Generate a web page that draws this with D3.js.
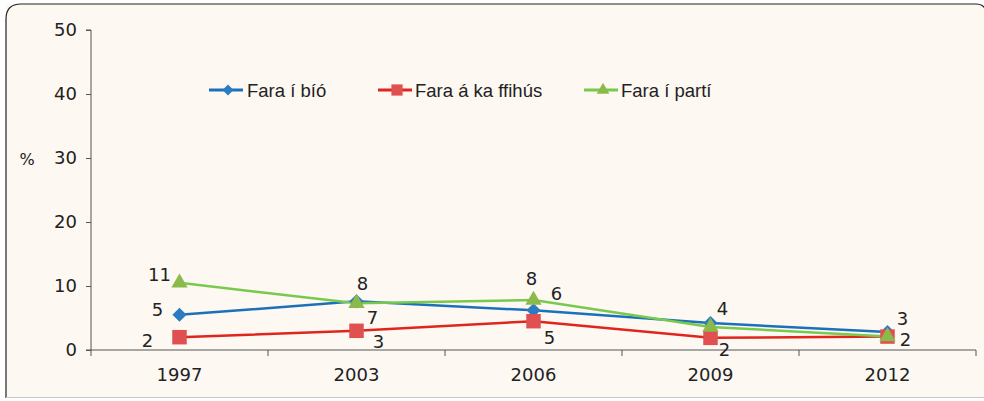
<!DOCTYPE html>
<html><head><meta charset="utf-8">
<script src="https://cdn.jsdelivr.net/npm/d3@7"></script>
<style>html,body{margin:0;padding:0;background:#fff;}svg{display:block;} .num{font-family:"DejaVu Sans", Verdana, sans-serif;} .leg{font-family:"Liberation Sans Narrow", "Arial Narrow", sans-serif;}</style>
</head><body><svg id="c" width="984" height="401"></svg>
<script>
const categories = ["1997","2003","2006","2009","2012"];
const yTicks = [0,10,20,30,40,50];
const seriesNames = ["Fara í bíó","Fara á ka ffihús","Fara í partí"];
const bioValues = [5.5, 7.6, 6.2, 4.2, 2.8];
const kaffiValues = [2.0, 3.0, 4.5, 1.9, 2.1];
const partiValues = [10.5, 7.3, 7.8, 3.6, 2.1];
const bioLabels = ["5","8","6","4","3"];
const kaffiLabels = ["2","3","5","2","2"];
const partiLabels = ["11","7","8",null,null];

const svg = d3.select("#c");
// frame
const fr = d3.path();
fr.moveTo(6, 398); fr.lineTo(6, 19); fr.quadraticCurveTo(6, 4, 21, 4);
fr.lineTo(976, 4); fr.quadraticCurveTo(983, 4, 986, 10);
svg.append("rect").attr("x",6).attr("y",4).attr("width",990).attr("height",394).attr("fill","#fdf8f2");
svg.append("path").attr("d", fr.toString()).attr("fill","none").attr("stroke","#222").attr("stroke-width",1.2);
svg.append("line").attr("x1",6).attr("x2",984).attr("y1",397.5).attr("y2",397.5).attr("stroke","#c8c8c8").attr("stroke-width",1);

const x0 = 91, x1 = 976, yb = 350, yt = 30;
const x = d3.scaleBand().domain(categories).range([x0, x1]);
const y = d3.scaleLinear().domain([0,50]).range([yb, yt]);
const fs = 18;

// y axis
const ya = svg.append("g").attr("transform",`translate(${x0},0)`)
  .call(d3.axisLeft(y).tickValues(yTicks).tickSize(5).tickPadding(9));
ya.attr("font-family", null).attr("font-size", null);
ya.select(".domain").attr("stroke","#555").attr("d",`M-5,${yt}H0V${yb}H-5`);
ya.selectAll(".tick line").attr("stroke","#555");
ya.selectAll("text").attr("class","num").style("font-size",fs+"px").attr("fill","#222");

// x axis
const xa = svg.append("g").attr("transform",`translate(0,${yb})`)
  .call(d3.axisBottom(x).tickSize(0).tickPadding(18));
xa.attr("font-family", null).attr("font-size", null);
xa.select(".domain").attr("stroke","#555").attr("d",`M${x0},0H${x1}`);
xa.selectAll("text").attr("class","num").style("font-size",fs+"px").attr("fill","#222");
const bounds = categories.map(c => x(c)).concat([x1]);
xa.selectAll(".bt").data(bounds).join("line").attr("class","bt")
  .attr("x1",d=>d).attr("x2",d=>d).attr("y1",0).attr("y2",6).attr("stroke","#555");

svg.append("text").attr("class","num").attr("x",27).attr("y",159).attr("text-anchor","middle").attr("dominant-baseline","central")
  .style("font-size","16px").attr("fill","#222").text("%");

const cx = c => x(c) + x.bandwidth()/2;
const diamond = {draw(ctx, size){ const s = Math.sqrt(size)/Math.SQRT2; ctx.moveTo(0,-s); ctx.lineTo(s,0); ctx.lineTo(0,s); ctx.lineTo(-s,0); ctx.closePath(); }};
const series = [
  {name: seriesNames[0], values: bioValues, labels: bioLabels, line:"#1b70ba", mark:"#2b7dc2", sym:diamond, size:100,
   off:[[-22,-5],[6,-18],[23,-17],[12,-15],[15,-14]]},
  {name: seriesNames[1], values: kaffiValues, labels: kaffiLabels, line:"#e0251e", mark:"#e05050", sym:d3.symbolSquare, size:210,
   off:[[-32,3],[22,11],[16,16],[14,12],[18,3]]},
  {name: seriesNames[2], values: partiValues, labels: partiLabels, line:"#78c94d", mark:"#8cba4a", sym:d3.symbolTriangle, size:115,
   off:[[-20,-8],[16,14],[-2,-22],[0,0],[0,0]]}
];
const line = d3.line().x((d,i)=>cx(categories[i])).y(d=>y(d));
series.forEach(s => {
  svg.append("path").attr("d", line(s.values)).attr("fill","none").attr("stroke",s.line).attr("stroke-width",2.5);
});
series.forEach(s => {
  svg.selectAll(null).data(s.values).join("path")
    .attr("transform",(d,i)=>`translate(${cx(categories[i])},${y(d)})`)
    .attr("d", d3.symbol().type(s.sym).size(s.size)).attr("fill",s.mark);
});
series.forEach(s => {
  s.values.forEach((v,i) => {
    if (s.labels[i] == null) return;
    svg.append("text").attr("class","num").attr("x", cx(categories[i]) + s.off[i][0]).attr("y", y(v) + s.off[i][1])
      .attr("text-anchor","middle").attr("dominant-baseline","central")
      .style("font-size",fs+"px").attr("fill","#222").text(s.labels[i]);
  });
});

// legend
const lg = [{x:209, tx:247},{x:378, tx:415},{x:584, tx:621}];
series.forEach((s,k) => {
  const g = svg.append("g");
  g.append("line").attr("x1",lg[k].x).attr("x2",lg[k].x+34).attr("y1",90).attr("y2",90).attr("stroke",s.line).attr("stroke-width",3);
  g.append("path").attr("transform",`translate(${lg[k].x+19},90)`).attr("d",d3.symbol().type(s.sym).size(s.size*0.6)).attr("fill",s.mark);
  g.append("text").attr("class","leg").attr("x",lg[k].tx).attr("y",90).attr("dominant-baseline","central")
    .style("font-size","18.5px").attr("fill","#222").text(s.name);
});
</script></body></html>
